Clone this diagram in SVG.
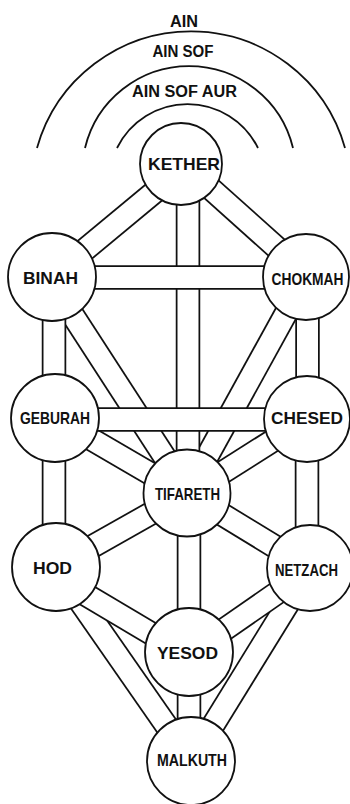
<svg xmlns="http://www.w3.org/2000/svg" width="350" height="804" viewBox="0 0 350 804">
<style>
.bg{fill:#fff}
.arc{fill:none;stroke:#111;stroke-width:1.8}
.o{stroke:#111;stroke-width:24.5;stroke-linecap:butt}
.i{stroke:#fff;stroke-width:21;stroke-linecap:butt}
.n circle{fill:#fff;stroke:#111;stroke-width:1.8}
text{font-family:"Liberation Sans",Arial,Helvetica,sans-serif;font-weight:bold;fill:#111;text-anchor:middle}
.lbl{font-size:17px}
.top{font-size:16px}
</style>
<rect class="bg" x="0" y="0" width="350" height="804"/>
<g id="arcs">
<path class="arc" d="M37,148 A160,160 0 0 1 345,148"/>
<path class="arc" d="M85,148 A107,107 0 0 1 293,148"/>
<path class="arc" d="M117,148 A78.5,78.5 0 0 1 258,148"/>
<text class="top" x="184" y="27" textLength="28" lengthAdjust="spacingAndGlyphs">AIN</text>
<text class="top" x="183" y="57" textLength="61" lengthAdjust="spacingAndGlyphs">AIN SOF</text>
<text class="top" x="184.5" y="97" textLength="105" lengthAdjust="spacingAndGlyphs">AIN SOF AUR</text>
</g>
<g id="connectors">
<g id="kether-binah"><line class="o" x1="181" y1="170" x2="52" y2="277"/><line class="i" x1="181" y1="170" x2="52" y2="277"/></g>
<g id="kether-chokmah"><line class="o" x1="181" y1="162" x2="306" y2="274"/><line class="i" x1="181" y1="162" x2="306" y2="274"/></g>
<g id="binah-tifareth"><line class="o" x1="48" y1="277" x2="188" y2="493"/><line class="i" x1="48" y1="277" x2="188" y2="493"/></g>
<g id="chokmah-tifareth"><line class="o" x1="306" y1="277" x2="187" y2="493"/><line class="i" x1="306" y1="277" x2="187" y2="493"/></g>
<g id="geburah-tifareth"><line class="o" x1="55" y1="418" x2="187" y2="495"/><line class="i" x1="55" y1="418" x2="187" y2="495"/></g>
<g id="chesed-tifareth"><line class="o" x1="307" y1="419" x2="187" y2="495"/><line class="i" x1="307" y1="419" x2="187" y2="495"/></g>
<g id="hod-tifareth"><line class="o" x1="56" y1="567" x2="187" y2="493"/><line class="i" x1="56" y1="567" x2="187" y2="493"/></g>
<g id="netzach-tifareth"><line class="o" x1="310" y1="568" x2="187" y2="493"/><line class="i" x1="310" y1="568" x2="187" y2="493"/></g>
<g id="hod-malkuth"><line class="o" x1="56" y1="567" x2="191" y2="761"/><line class="i" x1="56" y1="567" x2="191" y2="761"/></g>
<g id="netzach-malkuth"><line class="o" x1="310" y1="568" x2="191" y2="761"/><line class="i" x1="310" y1="568" x2="191" y2="761"/></g>
<g id="hod-yesod"><line class="o" x1="56" y1="577" x2="189" y2="656"/><line class="i" x1="56" y1="577" x2="189" y2="656"/></g>
<g id="netzach-yesod"><line class="o" x1="310" y1="570" x2="189" y2="654"/><line class="i" x1="310" y1="570" x2="189" y2="654"/></g>
<g id="kether-tifareth"><line class="o" x1="188" y1="164" x2="188" y2="493"/><line class="i" x1="188" y1="164" x2="188" y2="493"/></g>
<g id="tifareth-yesod"><line class="o" x1="189" y1="493" x2="189" y2="652"/><line class="i" x1="189" y1="493" x2="189" y2="652"/></g>
<g id="yesod-malkuth"><line class="o" x1="189" y1="652" x2="189" y2="761"/><line class="i" x1="189" y1="652" x2="189" y2="761"/></g>
<g id="binah-geburah"><line class="o" x1="54" y1="277" x2="54" y2="418"/><line class="i" x1="54" y1="277" x2="54" y2="418"/></g>
<g id="geburah-hod"><line class="o" x1="54" y1="418" x2="54" y2="567"/><line class="i" x1="54" y1="418" x2="54" y2="567"/></g>
<g id="chokmah-chesed"><line class="o" x1="307.5" y1="277" x2="307.5" y2="419"/><line class="i" x1="307.5" y1="277" x2="307.5" y2="419"/></g>
<g id="chesed-netzach"><line class="o" x1="307" y1="419" x2="307" y2="568"/><line class="i" x1="307" y1="419" x2="307" y2="568"/></g>
<g id="binah-chokmah"><line class="o" x1="52" y1="277.5" x2="306" y2="277.5"/><line class="i" x1="52" y1="277.5" x2="306" y2="277.5"/></g>
<g id="geburah-chesed"><line class="o" x1="55" y1="419.5" x2="307" y2="419.5"/><line class="i" x1="55" y1="419.5" x2="307" y2="419.5"/></g>
</g>
<g id="kether" class="n"><circle cx="181" cy="164" r="41"/><text class="lbl" x="184" y="170" textLength="72" lengthAdjust="spacingAndGlyphs">KETHER</text></g>
<g id="binah" class="n"><circle cx="52" cy="277" r="44"/><text class="lbl" x="50.5" y="283.5" textLength="55" lengthAdjust="spacingAndGlyphs">BINAH</text></g>
<g id="chokmah" class="n"><circle cx="306" cy="277" r="43"/><text class="lbl" x="307.5" y="285" textLength="72" lengthAdjust="spacingAndGlyphs">CHOKMAH</text></g>
<g id="geburah" class="n"><circle cx="55" cy="418" r="44"/><text class="lbl" x="55" y="424" textLength="70" lengthAdjust="spacingAndGlyphs">GEBURAH</text></g>
<g id="chesed" class="n"><circle cx="307" cy="419" r="43"/><text class="lbl" x="307" y="424" textLength="72" lengthAdjust="spacingAndGlyphs">CHESED</text></g>
<g id="tifareth" class="n"><circle cx="187" cy="493" r="43.5"/><text class="lbl" x="187.5" y="500" textLength="65" lengthAdjust="spacingAndGlyphs">TIFARETH</text></g>
<g id="hod" class="n"><circle cx="56" cy="567" r="44"/><text class="lbl" x="52.5" y="574" textLength="39" lengthAdjust="spacingAndGlyphs">HOD</text></g>
<g id="netzach" class="n"><circle cx="310" cy="568" r="43"/><text class="lbl" x="306.5" y="576" textLength="63" lengthAdjust="spacingAndGlyphs">NETZACH</text></g>
<g id="yesod" class="n"><circle cx="189" cy="652" r="44"/><text class="lbl" x="187.5" y="659" textLength="61" lengthAdjust="spacingAndGlyphs">YESOD</text></g>
<g id="malkuth" class="n"><circle cx="191" cy="761" r="44"/><text class="lbl" x="192" y="766" textLength="70" lengthAdjust="spacingAndGlyphs">MALKUTH</text></g>
</svg>
